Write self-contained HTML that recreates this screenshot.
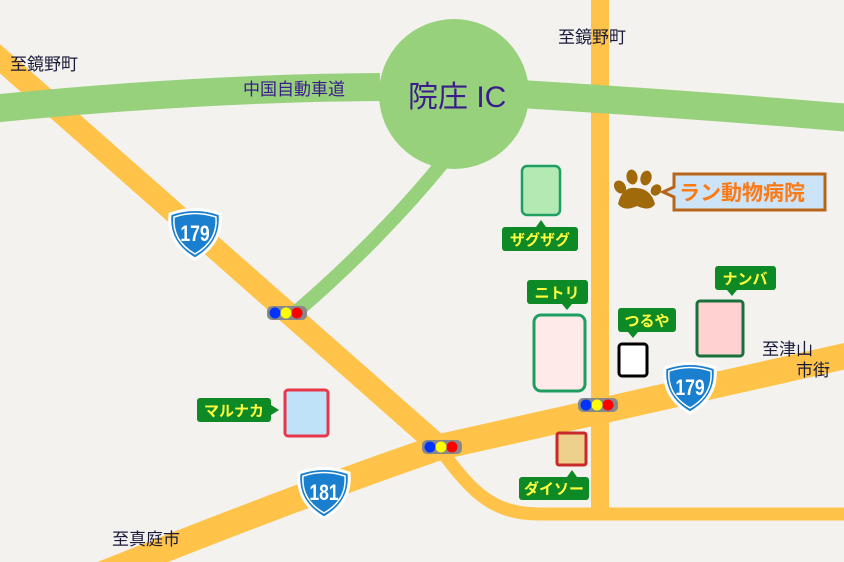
<!DOCTYPE html>
<html><head><meta charset="utf-8"><style>
html,body{margin:0;padding:0;background:#f3f2ef;}
svg{display:block;}
text{font-family:"Liberation Sans","Noto Sans CJK JP",sans-serif;}
</style></head><body>
<svg width="844" height="562" viewBox="0 0 844 562" xmlns="http://www.w3.org/2000/svg">
<rect width="844" height="562" fill="#f3f2ef"/>
<!-- yellow roads -->
<path d="M -10 50 L 440 447" fill="none" stroke="#fec348" stroke-width="22" stroke-linecap="round"/>
<path d="M 435 442 C 470 490 490 514 540 514 L 850 514" fill="none" stroke="#fec348" stroke-width="13"/>
<rect x="591" y="0" width="18" height="516" fill="#fec348"/>
<path d="M 100 575 Q 300 495 440 447 L 850 355" fill="none" stroke="#fec348" stroke-width="26"/>
<!-- expressway -->
<path d="M -10 109 Q 200 88 380 87 M 520 94 Q 700 105 850 118" fill="none" stroke="#97d17b" stroke-width="28"/>
<path d="M 445 160 Q 380 240 295 313" fill="none" stroke="#97d17b" stroke-width="14"/>
<circle cx="454" cy="94" r="75" fill="#97d17b"/>
<text x="243" y="95" font-size="17" fill="#3a1c8c">中国自動車道</text>
<text x="408" y="107" font-size="30" fill="#3a1c8c">院庄 IC</text>
<!-- place labels -->
<text x="10" y="70" font-size="17" fill="#1a1a3a">至鏡野町</text>
<text x="558" y="43" font-size="17" fill="#1a1a3a">至鏡野町</text>
<text x="762" y="355" font-size="17" fill="#1a1a3a">至津山</text>
<text x="796" y="376" font-size="17" fill="#1a1a3a">市街</text>
<text x="112" y="545" font-size="17" fill="#1a1a3a">至真庭市</text>
<!-- route shields -->
<g transform="translate(195,233)">
<path d="M -25 -19 Q 0 -28 25 -19 Q 28 10 0 26 Q -28 10 -25 -19 Z" fill="#1a7fcf" stroke="#fff" stroke-width="3"/>
<path d="M -21 -16 Q 0 -23 21 -16 Q 23 8 0 21 Q -23 8 -21 -16 Z" fill="none" stroke="#fff" stroke-width="1.5"/>
<text x="0" y="8" font-size="22" font-weight="bold" fill="#fff" text-anchor="middle" transform="scale(0.8,1)">179</text></g>
<g transform="translate(690,387)">
<path d="M -25 -19 Q 0 -28 25 -19 Q 28 10 0 26 Q -28 10 -25 -19 Z" fill="#1a7fcf" stroke="#fff" stroke-width="3"/>
<path d="M -21 -16 Q 0 -23 21 -16 Q 23 8 0 21 Q -23 8 -21 -16 Z" fill="none" stroke="#fff" stroke-width="1.5"/>
<text x="0" y="8" font-size="22" font-weight="bold" fill="#fff" text-anchor="middle" transform="scale(0.8,1)">179</text></g>
<g transform="translate(324,492)">
<path d="M -25 -19 Q 0 -28 25 -19 Q 28 10 0 26 Q -28 10 -25 -19 Z" fill="#1a7fcf" stroke="#fff" stroke-width="3"/>
<path d="M -21 -16 Q 0 -23 21 -16 Q 23 8 0 21 Q -23 8 -21 -16 Z" fill="none" stroke="#fff" stroke-width="1.5"/>
<text x="0" y="8" font-size="22" font-weight="bold" fill="#fff" text-anchor="middle" transform="scale(0.8,1)">181</text></g>
<!-- traffic lights -->
<g transform="translate(267,306)"><rect width="40" height="14" rx="5" fill="#888"/><circle cx="8" cy="7" r="5.5" fill="#0033ff"/><circle cx="19" cy="7" r="5.5" fill="#ffff00"/><circle cx="30" cy="7" r="5.5" fill="#ff0000"/></g>
<g transform="translate(422,440)"><rect width="40" height="14" rx="5" fill="#888"/><circle cx="8" cy="7" r="5.5" fill="#0033ff"/><circle cx="19" cy="7" r="5.5" fill="#ffff00"/><circle cx="30" cy="7" r="5.5" fill="#ff0000"/></g>
<g transform="translate(578,398)"><rect width="40" height="14" rx="5" fill="#888"/><circle cx="8" cy="7" r="5.5" fill="#0033ff"/><circle cx="19" cy="7" r="5.5" fill="#ffff00"/><circle cx="30" cy="7" r="5.5" fill="#ff0000"/></g>
<!-- stores -->
<rect x="522" y="166" width="38" height="49" rx="5" fill="#b3eab3" stroke="#1e9e60" stroke-width="2.5"/>
<rect x="534" y="315" width="51" height="76" rx="7" fill="#ffeaea" stroke="#1e9e60" stroke-width="3"/>
<rect x="619" y="344" width="28" height="32" rx="3" fill="#fff" stroke="#000" stroke-width="3"/>
<rect x="697" y="301" width="46" height="55" rx="3" fill="#ffd1d1" stroke="#17703a" stroke-width="3"/>
<rect x="285" y="390" width="43" height="46" rx="3" fill="#bfe2f8" stroke="#e8374a" stroke-width="3"/>
<rect x="557" y="433" width="29" height="32" rx="2" fill="#ecd08c" stroke="#c9292a" stroke-width="3"/>
<!-- green labels -->
<g font-size="15" font-weight="bold" fill="#ffff40">
<rect x="502" y="227" width="76" height="24" rx="3" fill="#0d8a25"/><path d="M536 227 L541 220 L546 227Z" fill="#0d8a25"/><text x="540" y="245" text-anchor="middle">ザグザグ</text>
<rect x="527" y="280" width="61" height="24" rx="3" fill="#0d8a25"/><path d="M562 304 L567 310 L572 304Z" fill="#0d8a25"/><text x="557" y="298" text-anchor="middle">ニトリ</text>
<rect x="618" y="308" width="58" height="24" rx="3" fill="#0d8a25"/><path d="M628 332 L633 338 L638 332Z" fill="#0d8a25"/><text x="647" y="326" text-anchor="middle">つるや</text>
<rect x="715" y="266" width="61" height="24" rx="3" fill="#0d8a25"/><path d="M727 290 L732 296 L737 290Z" fill="#0d8a25"/><text x="745" y="284" text-anchor="middle">ナンバ</text>
<rect x="197" y="398" width="74" height="24" rx="3" fill="#0d8a25"/><path d="M271 405 L279 410 L271 415Z" fill="#0d8a25"/><text x="234" y="416" text-anchor="middle">マルナカ</text>
<rect x="519" y="477" width="70" height="23" rx="3" fill="#0d8a25"/><path d="M567 477 L572 470 L577 477Z" fill="#0d8a25"/><text x="554" y="494" text-anchor="middle">ダイソー</text>
</g>
<!-- paw -->
<g fill="#a06a0a">
<ellipse cx="620" cy="187" rx="5.5" ry="7" transform="rotate(-35 620 187)"/>
<ellipse cx="632" cy="177" rx="5.5" ry="7.5" transform="rotate(-10 632 177)"/>
<ellipse cx="646" cy="178" rx="5.5" ry="7.5" transform="rotate(15 646 178)"/>
<ellipse cx="656" cy="190" rx="5" ry="6" transform="rotate(35 656 190)"/>
<path d="M618 204 Q622 186 637 188 Q651 189 655 204 Q650 212 637 206 Q624 212 618 204Z"/>
</g>
<path d="M674 174 L825 174 L825 210 L674 210 L674 197 L663 192 L674 187 Z" fill="#cde4f8" stroke="#b8651a" stroke-width="3"/>
<text x="679" y="200" font-size="21" font-weight="bold" fill="#fb7a14">ラン動物病院</text>
</svg>
</body></html>
